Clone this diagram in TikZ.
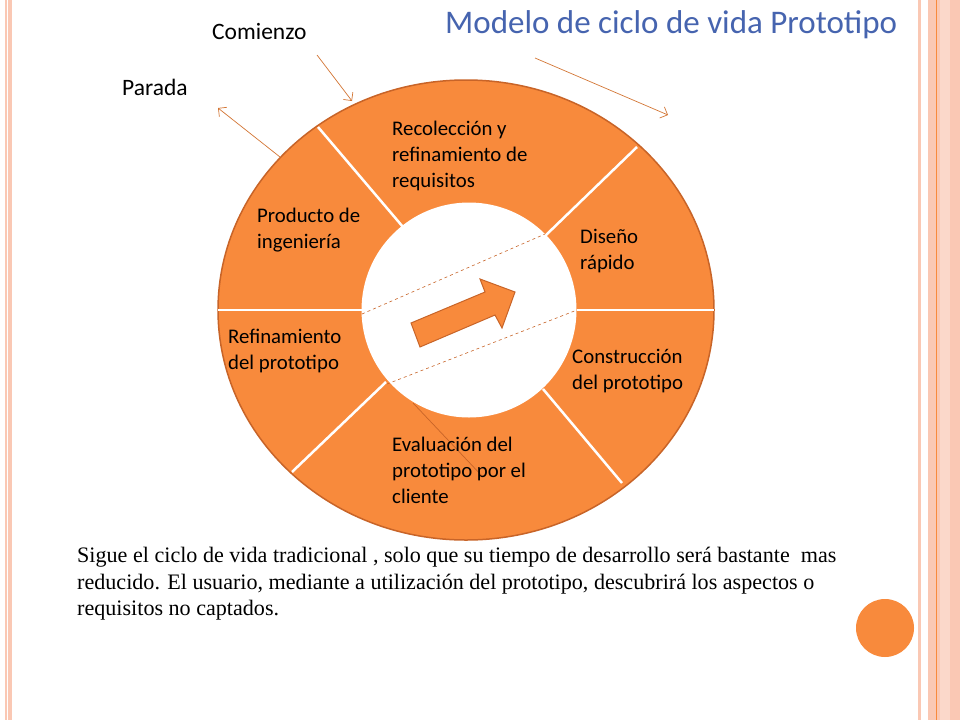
\documentclass[tikz,border=0pt]{standalone}
\usepackage{fontspec}
\usetikzlibrary{shapes.geometric,arrows.meta}
\setmainfont{Liberation Serif}
\newfontfamily\calfont{Carlito}
\definecolor{org}{RGB}{248,138,60}
\definecolor{orgd}{RGB}{200,100,40}
\definecolor{sal}{RGB}{250,200,180}
\definecolor{ttl}{RGB}{70,100,175}
\begin{document}
\begin{tikzpicture}[x=1pt,y=-1pt,
  lab/.style={font=\calfont\fontsize{20.8}{26}\selectfont,align=left,anchor=north west,inner sep=0pt},
  side/.style={font=\calfont\fontsize{23.5}{26}\selectfont,anchor=north west,inner sep=0pt},
  div/.style={white,line width=2.5pt},
  dsh/.style={orgd,dashed,line width=0.6pt},
  thin/.style={org!85!black,line width=0.7pt,-{Straight Barb[length=6pt]}}]
\useasboundingbox (0,0) rectangle (960,720);
\fill[white] (0,0) rectangle (960,720);
% side stripes
\fill[sal] (5,0) rectangle (6.5,720);
\fill[sal] (8,0) rectangle (11.5,720);
\fill[sal] (918,0) rectangle (921,720);
\fill[sal] (928,0) rectangle (960,720);
\fill[sal!70!white] (940,0) rectangle (950,720);
\draw[org,line width=0.8pt] (936,0) -- (936,720);
% wheel
\node[draw=orgd,line width=1.5pt,fill=org,ellipse,minimum width=496pt,minimum height=460pt,inner sep=0pt] (wheel) at (466,310) {};
\draw[div] (218,310) -- (362,310);
\draw[div] (577,310) -- (714,310);
\draw[div] (318,127) -- (403,227);
\draw[div] (637,147) -- (545,236);
\draw[div] (292,472) -- (386,382);
\draw[div] (622,483) -- (543,389);
\node[circle,fill=white,minimum size=215pt,inner sep=0pt] (hub) at (469,310) {};
\draw[dsh] (362,314) -- (545,234);
\draw[dsh] (387,384) -- (577,310);
\draw[orgd,line width=0.7pt] (413,403) -- (483,477);
\draw[fill=org,draw=orgd,line width=1pt] (411,323) -- (485,292) -- (480,279) -- (515,292) -- (502,328) -- (495,315) -- (420,347) -- cycle;
% labels
\node[lab] (l1) at (392,121) {Recolección y\\refinamiento de\\requisitos};
\node[lab] (l2) at (580,229) {Diseño\\rápido};
\node[lab] (l3) at (572,349) {Construcción\\del prototipo};
\node[lab] (l4) at (392,437) {Evaluación del\\prototipo por el\\cliente};
\node[lab] (l5) at (228,329) {Refinamiento\\del prototipo};
\node[lab] (l6) at (257,208) {Producto de\\ingeniería};
\node[side] (com) at (212,23) {Comienzo};
\node[side] (par) at (122,79) {Parada};
\coordinate (c1) at (317,55); \coordinate (c2) at (352,101);
\coordinate (p1) at (280,157); \coordinate (p2) at (218,108);
\coordinate (r1) at (535,58); \coordinate (r2) at (668,115);
\draw[thin] (c1) -- (c2);
\draw[thin] (p1) -- (p2);
\draw[thin] (r1) -- (r2);
\node[anchor=base west,inner sep=0pt,text=ttl,font=\calfont\fontsize{33}{34}\selectfont] (title) at (445,33) {Modelo de ciclo de vida Prototipo};
\node[anchor=north west,inner sep=0pt,align=left,font=\fontsize{22.1}{26.5}\selectfont] (body) at (77,547) {Sigue el ciclo de vida tradicional , solo que su tiempo de desarrollo será bastante\ \ mas\\reducido. El usuario, mediante a utilización del prototipo, descubrirá los aspectos o\\requisitos no captados.};
\node[circle,fill=org,minimum size=58pt,inner sep=0pt] (dot) at (885,628) {};
\end{tikzpicture}
\end{document}
